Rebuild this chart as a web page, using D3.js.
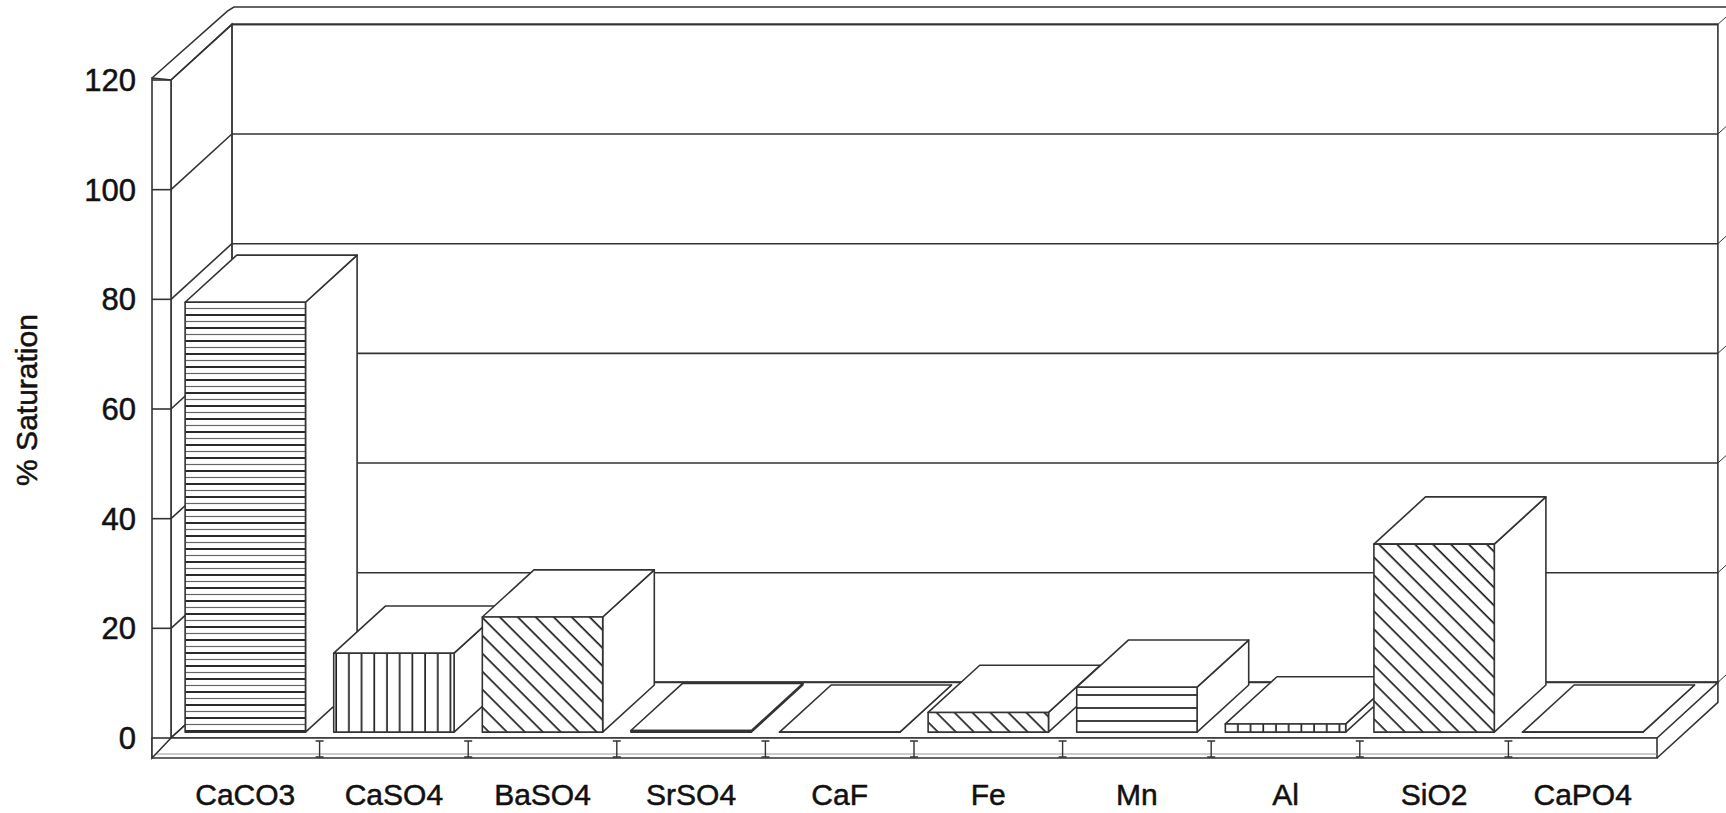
<!DOCTYPE html>
<html>
<head>
<meta charset="utf-8">
<script src="https://cdn.jsdelivr.net/npm/d3@7"></script>
<style>
body { margin: 0; background: #fff; }
text { font-family: "Liberation Sans", Arial, sans-serif; fill: #111;
       stroke: #111; stroke-width: 0.5; }
</style>
</head>
<body>
<script>
// data
var categories = ["CaCO3", "CaSO4", "BaSO4", "SrSO4", "CaF",
                  "Fe", "Mn", "Al", "SiO2", "CaPO4"];
var saturation = [78.4, 14.4, 21, 0.3, 0, 3.6, 8.2, 1.5, 34.3, 0];
var yTicks = [0, 20, 40, 60, 80, 100, 120];
// fill pattern used for each category (excel style b/w hatching)
var hatch = ["hdense", "vert", "diag", "hor", "vert",
             "diag", "hor", "vert", "diag", "hor"];

var W = 1726, H = 813;
var svg = d3.select("body").append("svg")
    .attr("width", W)
    .attr("height", H);

// oblique 3d: one unit of depth moves a point right by dx and up by dy
var dx = 58, dy = 53;
var zWall = 1.05, zFront = 0.11, zBack = 1.0;
var ink = "#333";

var x = d3.scaleBand().domain(categories)
    .range([171, 1657]).paddingInner(0.19).paddingOuter(0.095);
var y = d3.scaleLinear().domain([0, 120]).range([738, 80]);

var x0 = x.range()[0], x1 = x.range()[1];
var step = x.step(), bw = x.bandwidth();

function P(px, v, z) { return [px + z * dx, y(v) - z * dy]; }
var line = d3.line();

// ---- hatch patterns ----
var defs = svg.append("defs");
function linePattern(id, w, h, segs, rot) {
    var p = defs.append("pattern").attr("id", id)
        .attr("patternUnits", "userSpaceOnUse")
        .attr("width", w).attr("height", h);
    if (rot) p.attr("patternTransform", "rotate(" + rot + ")");
    p.append("rect").attr("width", w).attr("height", h).attr("fill", "#fff");
    segs.forEach(function(s) {
        p.append("line").attr("x1", s[0]).attr("y1", s[1])
            .attr("x2", s[2]).attr("y2", s[3])
            .attr("stroke", s[4] || "#111")
            .attr("stroke-width", s[5] || 1.6);
    });
}
// dense horizontal: a dark line and a lighter one in between
linePattern("hdense", 10, 13, [[0, 3, 10, 3, "#111", 1.8],
                               [0, 9.5, 10, 9.5, "#666", 1.2]]);
linePattern("hor", 10, 13, [[0, 6, 10, 6]]);
linePattern("vert", 12.7, 10, [[6, 0, 6, 10]]);
linePattern("diag", 12.7, 10, [[6, 0, 6, 10]], -45);

// ---- back wall ----
var wall = svg.append("g").attr("fill", "#fff").attr("stroke", ink)
    .attr("stroke-width", 1.6);

// top strip of the wall thickness
wall.append("path")
    .attr("fill", "none")
    .attr("d", line([[152, y(120) - 2], P(152, 120, zWall + 0.25),
                     [P(x0, 120, zWall)[0] + 2, 7], [W, 7]]));

wall.append("path")
    .attr("d", line([P(x0, 0, zWall), P(x1, 0, zWall),
                     P(x1, 120, zWall), P(x0, 120, zWall)]) + "Z");

// gridlines on the back wall
wall.selectAll(".grid").data(yTicks).enter().append("path")
    .attr("class", "grid")
    .attr("d", function(v) { return line([P(x0, v, zWall), P(x1, v, zWall)]); });

// right edge stubs, leaving the frame
wall.selectAll(".stub").data(yTicks).enter().append("path")
    .attr("class", "stub")
    .attr("stroke-width", 1)
    .attr("d", function(v) {
        return line([P(x1, v, zWall), P(x1, v, zWall + 0.25)]);
    });

// ---- left wall ----
wall.append("path")
    .attr("d", line([P(x0, 0, 0), P(x0, 0, zWall),
                     P(x0, 120, zWall), P(x0, 120, 0)]) + "Z");
wall.selectAll(".lgrid").data(yTicks).enter().append("path")
    .attr("class", "lgrid")
    .attr("d", function(v) { return line([P(x0, v, 0), P(x0, v, zWall)]); });

// ---- floor ----
wall.append("path")
    .attr("d", line([P(x0, 0, 0), P(x1, 0, 0),
                     P(x1, 0, zWall), P(x0, 0, zWall)]) + "Z");
// floor slab front face and right side
wall.append("path")
    .attr("d", line([[152, y(0)], [x1, y(0)], [x1, 758], [152, 758]]) + "Z");
wall.append("path")
    .attr("fill", "none")
    .attr("d", line([[x1, 758], [x1 + zWall * dx, 758 - zWall * dy],
                     P(x1, 0, zWall)]));
wall.append("path")
    .attr("stroke", "#999").attr("stroke-width", 1)
    .attr("d", line([[152, 754], [x1, 754]]));

// category separators on the slab
var seps = d3.range(1, categories.length).map(function(k) { return x0 + k * step; });
var sepG = svg.append("g").attr("stroke", ink).attr("stroke-width", 1.4);
sepG.selectAll("path").data(seps).enter().append("path")
    .attr("fill", "none")
    .attr("d", function(s) {
        return "M" + (s - 4) + ",741H" + (s + 4) +
               "M" + s + ",741V757" +
               "M" + (s - 4) + ",757H" + (s + 4);
    });

// front strip of the left wall, with tick marks
wall.append("path")
    .attr("d", line([[152, y(120) - 2], [x0, y(120)], [x0, y(0)],
                     [152, 758]]) + "Z");
wall.selectAll(".tick").data(yTicks).enter().append("path")
    .attr("class", "tick")
    .attr("d", function(v) { return line([[152, y(v)], [x0, y(v)]]); });

// ---- bars, left to right so later ones cover earlier side faces ----
var data = categories.map(function(c, i) {
    return {key: c, value: saturation[i], fill: hatch[i]};
});

var bars = svg.selectAll(".bar").data(data).enter().append("g")
    .attr("class", "bar")
    .attr("stroke", ink).attr("stroke-width", 1.6)
    .attr("stroke-linejoin", "round");

function corners(d) {
    var xl = x(d.key) - zFront * dx, xr = xl + bw;
    return {
        flt: P(xl, d.value, zFront), frt: P(xr, d.value, zFront),
        brt: P(xr, d.value, zBack), blt: P(xl, d.value, zBack),
        flb: P(xl, 0, zFront), frb: P(xr, 0, zFront), brb: P(xr, 0, zBack)
    };
}

bars.append("path")   // right side
    .attr("fill", "#fff")
    .attr("d", function(d) {
        var c = corners(d);
        return line([c.frt, c.brt, c.brb, c.frb]) + "Z";
    });
bars.append("path")   // top
    .attr("fill", "#fff")
    .attr("d", function(d) {
        var c = corners(d);
        return line([c.flt, c.frt, c.brt, c.blt]) + "Z";
    });
bars.append("path")   // front, hatched
    .attr("fill", function(d) { return "url(#" + d.fill + ")"; })
    .attr("d", function(d) {
        var c = corners(d);
        return line([c.flt, c.frt, c.frb, c.flb]) + "Z";
    });

// ---- axis labels ----
svg.append("g").selectAll("text").data(yTicks).enter().append("text")
    .attr("x", 136)
    .attr("y", function(v) { return y(v); })
    .attr("dy", "0.36em")
    .attr("text-anchor", "end")
    .attr("font-size", 31)
    .text(function(v) { return v; });

svg.append("g").selectAll("text").data(categories).enter().append("text")
    .attr("x", function(c) { return x(c) + bw / 2; })
    .attr("y", 805)
    .attr("text-anchor", "middle")
    .attr("font-size", 30)
    .text(function(c) { return c; });

svg.append("text")
    .attr("transform", "translate(37,400) rotate(-90)")
    .attr("text-anchor", "middle")
    .attr("font-size", 30)
    .text("% Saturation");
</script>
</body>
</html>
